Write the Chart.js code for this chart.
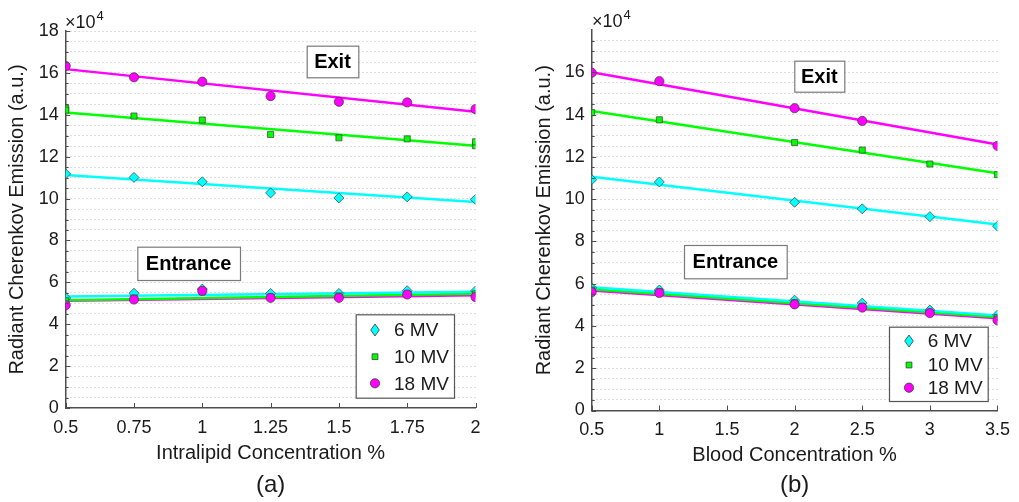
<!DOCTYPE html>
<html><head><meta charset="utf-8">
<script src="https://cdn.jsdelivr.net/npm/chart.js@4/dist/chart.umd.min.js"></script>
<style>
html,body{margin:0;padding:0;background:#fff;width:1019px;height:502px;overflow:hidden;}
#wa{position:absolute;left:0;top:0;width:510px;height:502px;}
#wb{position:absolute;left:510px;top:0;width:509px;height:502px;}
</style></head><body>
<div id="wa"><canvas id="ca" width="510" height="502"></canvas></div>
<div id="wb"><canvas id="cb" width="509" height="502"></canvas></div>
<script>
// ---------- data (values in units of 10^4) ----------
const seriesNames = ['6 MV', '10 MV', '18 MV'];

// Panel (a): Intralipid
const xA = [0.5, 0.75, 1, 1.25, 1.5, 1.75, 2];
const xTicksA = [0.5, 0.75, 1, 1.25, 1.5, 1.75, 2];
const yLabelsA = [0, 2, 4, 6, 8, 10, 12, 14, 16, 18];
const exitA6  = [11.18, 11.01, 10.80, 10.27, 10.03, 10.08, 9.96];
const exitA10 = [14.22, 13.94, 13.75, 13.06, 12.90, 12.85, 12.71];
const exitA10extraX = [0.5, 2];
const exitA10extraY = [14.32, 12.52];
const exitA18 = [16.33, 15.79, 15.58, 14.89, 14.62, 14.59, 14.27];
const entA6   = [5.25, 5.48, 5.68, 5.47, 5.47, 5.60, 5.59];
const entA10  = [5.12, 5.25, 5.55, 5.30, 5.35, 5.45, 5.45];
const entA18  = [4.91, 5.18, 5.59, 5.26, 5.26, 5.42, 5.30];
const fitExitA6  = [11.12, 9.83];
const fitExitA10 = [14.11, 12.52];
const fitExitA18 = [16.18, 14.14];
const fitEntA6   = [5.32, 5.55];
const fitEntA10  = [5.15, 5.45];
const fitEntA18  = [5.12, 5.38];

// Panel (b): Blood
const xB = [0.5, 1, 2, 2.5, 3, 3.5];
const xTicksB = [0.5, 1, 1.5, 2, 2.5, 3, 3.5];
const yLabelsB = [0, 2, 4, 6, 8, 10, 12, 14, 16];
const exitB6  = [10.92, 10.81, 9.85, 9.54, 9.17, 8.72];
const exitB10 = [14.09, 13.75, 12.68, 12.32, 11.66, 11.16];
const exitB18 = [15.98, 15.58, 14.30, 13.70, null, 12.52];
const entB6   = [5.80, 5.70, 5.22, 5.08, 4.75, 4.52];
const entB10  = [5.70, 5.62, 5.10, 4.92, 4.65, 4.40];
const entB18  = [5.60, 5.56, 5.02, 4.87, 4.61, 4.27];
const fitExitB6  = [11.06, 8.80];
const fitExitB10 = [14.17, 11.22];
const fitExitB18 = [16.00, 12.58];
const fitEntB6   = [5.83, 4.50];
const fitEntB10  = [5.74, 4.42];
const fitEntB18  = [5.68, 4.36];

// ---------- styling ----------
const FONT = "'Liberation Sans', Arial, Helvetica, sans-serif";
const AXIS = '#4d4d4d';
const TXT = '#1a1a1a';
const GRID = '#bdbdbd';
const styles = [
  {color: '#00ffff', shape: 'rectRot', r: 5},
  {color: '#00ff00', shape: 'rect', r: 4.3},
  {color: '#ff00ff', shape: 'circle', r: 4.6}
];

function markerDs(xs, ys, s, order) {
  const data = [];
  xs.forEach((x, i) => { if (ys[i] !== null) data.push({x: x, y: ys[i]}); });
  return {type: 'scatter', data, showLine: false, pointStyle: s.shape,
    pointRadius: s.r, pointHoverRadius: s.r, backgroundColor: s.color,
    borderColor: '#3a3a3a', borderWidth: 0.7, order};
}
function fitDs(xs, f, s) {
  return {type: 'scatter', data: [{x: xs[0], y: f[0]}, {x: xs[xs.length - 1], y: f[1]}],
    showLine: true, pointRadius: 0, pointHoverRadius: 0, borderColor: s.color,
    backgroundColor: s.color, borderWidth: 2.5, order: 10};
}

function drawLegendMarker(ctx, s, x, y) {
  ctx.save();
  ctx.fillStyle = s.color; ctx.strokeStyle = '#3a3a3a'; ctx.lineWidth = 0.8;
  ctx.beginPath();
  if (s.shape === 'rectRot') {
    ctx.moveTo(x, y - 6); ctx.lineTo(x + 4.3, y); ctx.lineTo(x, y + 6); ctx.lineTo(x - 4.3, y); ctx.closePath();
  } else if (s.shape === 'rect') {
    ctx.rect(x - 2.9, y - 2.9, 5.8, 5.8);
  } else {
    ctx.arc(x, y, 4.6, 0, Math.PI * 2);
  }
  ctx.fill(); ctx.stroke();
  ctx.restore();
}

function decoPlugin(p) {
  return {
    id: 'deco' + p.id,
    afterDraw(chart) {
      const ctx = chart.ctx, a = chart.chartArea, xs = chart.scales.x, ys = chart.scales.y;
      ctx.save();
      // inward tick marks
      ctx.strokeStyle = AXIS; ctx.lineWidth = 1;
      for (let v = 0; v <= p.yTickMax + 1e-9; v += 0.5) {
        const y = Math.round(ys.getPixelForValue(v)) + 0.5;
        const len = (v % 2 === 0) ? 4.5 : 3;
        ctx.beginPath(); ctx.moveTo(a.left, y); ctx.lineTo(a.left + len, y); ctx.stroke();
      }
      p.xTicks.forEach(v => {
        const x = Math.round(xs.getPixelForValue(v)) + 0.5;
        ctx.beginPath(); ctx.moveTo(x, a.bottom); ctx.lineTo(x, a.bottom - 5); ctx.stroke();
      });
      // annotation boxes
      p.notes.forEach(n => {
        ctx.fillStyle = '#fff';
        ctx.fillRect(n.x0, n.y0, n.x1 - n.x0, n.y1 - n.y0);
        ctx.strokeStyle = '#7a7a7a'; ctx.lineWidth = 1.2;
        ctx.strokeRect(n.x0 + 0.5, n.y0 + 0.5, n.x1 - n.x0, n.y1 - n.y0);
        ctx.fillStyle = '#000'; ctx.font = 'bold 20px ' + FONT;
        ctx.textAlign = 'center'; ctx.textBaseline = 'middle';
        ctx.fillText(n.text, (n.x0 + n.x1) / 2, (n.y0 + n.y1) / 2 + 1);
      });
      // legend
      const L = p.legend;
      ctx.fillStyle = '#fff';
      ctx.fillRect(L.x0, L.y0, L.x1 - L.x0, L.y1 - L.y0);
      ctx.strokeStyle = '#555'; ctx.lineWidth = 1.2;
      ctx.strokeRect(L.x0 + 0.5, L.y0 + 0.5, L.x1 - L.x0, L.y1 - L.y0);
      seriesNames.forEach((name, i) => {
        drawLegendMarker(ctx, styles[i], L.mx, L.rows[i]);
        ctx.fillStyle = TXT; ctx.font = '19px ' + FONT;
        ctx.textAlign = 'left'; ctx.textBaseline = 'middle';
        ctx.fillText(name, L.tx, L.rows[i] + 1);
      });
      // x10^4 multiplier
      ctx.fillStyle = TXT; ctx.textAlign = 'left'; ctx.textBaseline = 'alphabetic';
      ctx.font = '18px ' + FONT;
      ctx.fillText('\u00d710', p.mult.x, p.mult.y);
      const w = ctx.measureText('\u00d710').width;
      ctx.font = '13px ' + FONT;
      ctx.fillText('4', p.mult.x + w + 1, p.mult.y - 8);
      // panel letter
      ctx.font = '24px ' + FONT; ctx.textAlign = 'center'; ctx.textBaseline = 'middle';
      ctx.fillText(p.letter, (a.left + a.right) / 2, p.letterY);
      ctx.restore();
    }
  };
}

function makePanel(canvasId, cfg) {
  const yTicksAll = [];
  for (let v = 0; v <= cfg.yMax + 1e-9; v += 0.5) yTicksAll.push(v);
  return new Chart(document.getElementById(canvasId), {
    type: 'scatter',
    data: {datasets: cfg.datasets},
    options: {
      responsive: false, animation: false, events: [],
      layout: {padding: cfg.padding},
      plugins: {legend: {display: false}, tooltip: {enabled: false}},
      scales: {
        x: {
          type: 'linear', min: cfg.xTicks[0], max: cfg.xTicks[cfg.xTicks.length - 1],
          afterBuildTicks: s => { s.ticks = cfg.xTicks.map(v => ({value: v})); },
          afterFit: s => { s.height = 60; },
          ticks: {autoSkip: false, maxRotation: 0, padding: 9, color: TXT,
            font: {family: FONT, size: 18}, callback: v => String(v)},
          grid: {display: false, drawTicks: false},
          border: {display: true, color: AXIS, width: 1.5},
          title: {display: true, text: cfg.xTitle, color: TXT,
            font: {family: FONT, size: 20}, padding: {top: 0, bottom: 3}}
        },
        y: {
          type: 'linear', min: 0, max: cfg.yMax,
          afterBuildTicks: s => { s.ticks = yTicksAll.map(v => ({value: v})); },
          afterFit: s => { s.width = cfg.yWidth; },
          ticks: {autoSkip: false, padding: 7, color: TXT, font: {family: FONT, size: 18},
            callback: v => cfg.yLabels.includes(v) ? String(v) : ''},
          grid: {display: true, drawTicks: false, lineWidth: 1,
            color: c => (c.tick && (c.tick.value === 0 || (cfg.hideTop && c.tick.value === cfg.yMax))) ? 'rgba(0,0,0,0)' : GRID},
          border: {display: true, color: AXIS, width: 1.5, dash: [1, 3]},
          title: {display: true, text: 'Radiant Cherenkov Emission (a.u.)', color: TXT,
            font: {family: FONT, size: 20}, padding: {top: 5, bottom: 0}}
        }
      }
    },
    plugins: [decoPlugin(cfg.deco)]
  });
}

makePanel('ca', {
  xTicks: xTicksA, yMax: 18, yLabels: yLabelsA, hideTop: false,
  xTitle: 'Intralipid Concentration %', yWidth: 65.7,
  padding: {left: 0, right: 34.5, top: 31, bottom: 34},
  datasets: [
    fitDs(xA, fitExitA6, styles[0]), fitDs(xA, fitExitA10, styles[1]), fitDs(xA, fitExitA18, styles[2]),
    fitDs(xA, fitEntA6, styles[0]), fitDs(xA, fitEntA10, styles[1]), fitDs(xA, fitEntA18, styles[2]),
    markerDs(xA, exitA6, styles[0], 3), markerDs(xA, entA6, styles[0], 3),
    markerDs(xA, exitA10, styles[1], 2), markerDs(exitA10extraX, exitA10extraY, styles[1], 2), markerDs(xA, entA10, styles[1], 2),
    markerDs(xA, exitA18, styles[2], 1), markerDs(xA, entA18, styles[2], 1)
  ],
  deco: {
    id: 'a', yTickMax: 18, xTicks: xTicksA, letter: '(a)', letterY: 485,
    mult: {x: 65, y: 28},
    notes: [
      {text: 'Exit', x0: 306.7, y0: 45.7, x1: 358.3, y1: 77.3},
      {text: 'Entrance', x0: 137.3, y0: 246.7, x1: 240, y1: 280}
    ],
    legend: {x0: 355.7, y0: 314.3, x1: 454, y1: 397.7, mx: 375, tx: 394, rows: [330, 356.7, 383.3]}
  }
});

makePanel('cb', {
  xTicks: xTicksB, yMax: 18, yLabels: yLabelsB, hideTop: true,
  xTitle: 'Blood Concentration %', yWidth: 64.7,
  padding: {left: 17, right: 13.3, top: 30, bottom: 31.5},
  datasets: [
    fitDs(xB, fitExitB6, styles[0]), fitDs(xB, fitExitB10, styles[1]), fitDs(xB, fitExitB18, styles[2]),
    fitDs(xB, fitEntB6, styles[0]), fitDs(xB, fitEntB10, styles[1]), fitDs(xB, fitEntB18, styles[2]),
    markerDs(xB, exitB6, styles[0], 3), markerDs(xB, entB6, styles[0], 3),
    markerDs(xB, exitB10, styles[1], 2), markerDs(xB, entB10, styles[1], 2),
    markerDs(xB, exitB18, styles[2], 1), markerDs(xB, entB18, styles[2], 1)
  ],
  deco: {
    id: 'b', yTickMax: 17.5, xTicks: xTicksB, letter: '(b)', letterY: 485,
    mult: {x: 82, y: 27},
    notes: [
      {text: 'Exit', x0: 284.3, y0: 60.7, x1: 334.3, y1: 91.7},
      {text: 'Entrance', x0: 174, y0: 245, x1: 276.7, y1: 278.3}
    ],
    legend: {x0: 379, y0: 326.7, x1: 477.7, y1: 401, mx: 399, tx: 417.7, rows: [341, 365, 387.7]}
  }
});
</script>
</body></html>
